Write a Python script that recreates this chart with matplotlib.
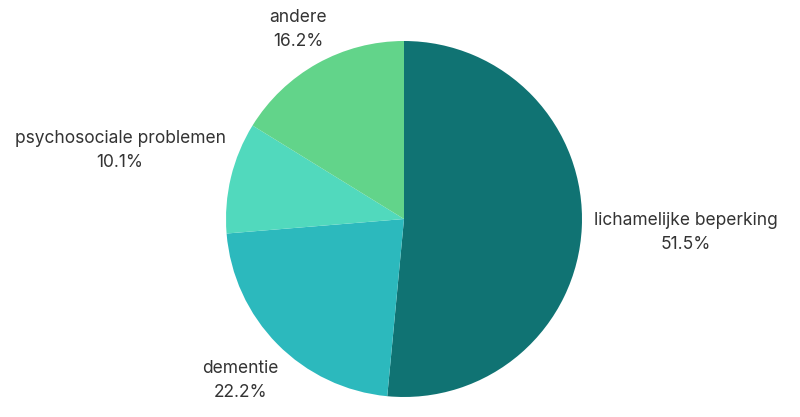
import numpy as np
import matplotlib
matplotlib.use("Agg")
import matplotlib.pyplot as plt

plt.rcParams['font.family'] = ['Inter', 'DejaVu Sans']

categories = ["lichamelijke beperking", "dementie", "psychosociale problemen", "andere"]
shares = [51.5, 22.2, 10.1, 16.2]
colors = ["#107373", "#2cb9bd", "#51d9bd", "#62d48a"]
label_dist = [1.585, 1.29, 1.64, 1.22]

fig = plt.figure(figsize=(8, 4.17), dpi=100)
# pie centre ~ (404, 219) px, radius ~178 px
ax = fig.add_axes([(404 - 178) / 800, (417 - 219 - 178) / 417, 356 / 800, 356 / 417])

wedges, _ = ax.pie(shares, colors=colors, startangle=90, counterclock=False,
                   radius=1, wedgeprops=dict(linewidth=0))
ax.set_xlim(-1, 1)
ax.set_ylim(-1, 1)
ax.set_aspect('equal')
ax.axis('off')

for w, name, val, d in zip(wedges, categories, shares, label_dist):
    mid = np.deg2rad((w.theta1 + w.theta2) / 2)
    ax.text(d * np.cos(mid), d * np.sin(mid), f"{name}\n{val:.1f}%",
            ha='center', va='center', fontsize=12.5, color="#333333",
            linespacing=1.55, clip_on=False)

fig.savefig("out.png", dpi=100)
